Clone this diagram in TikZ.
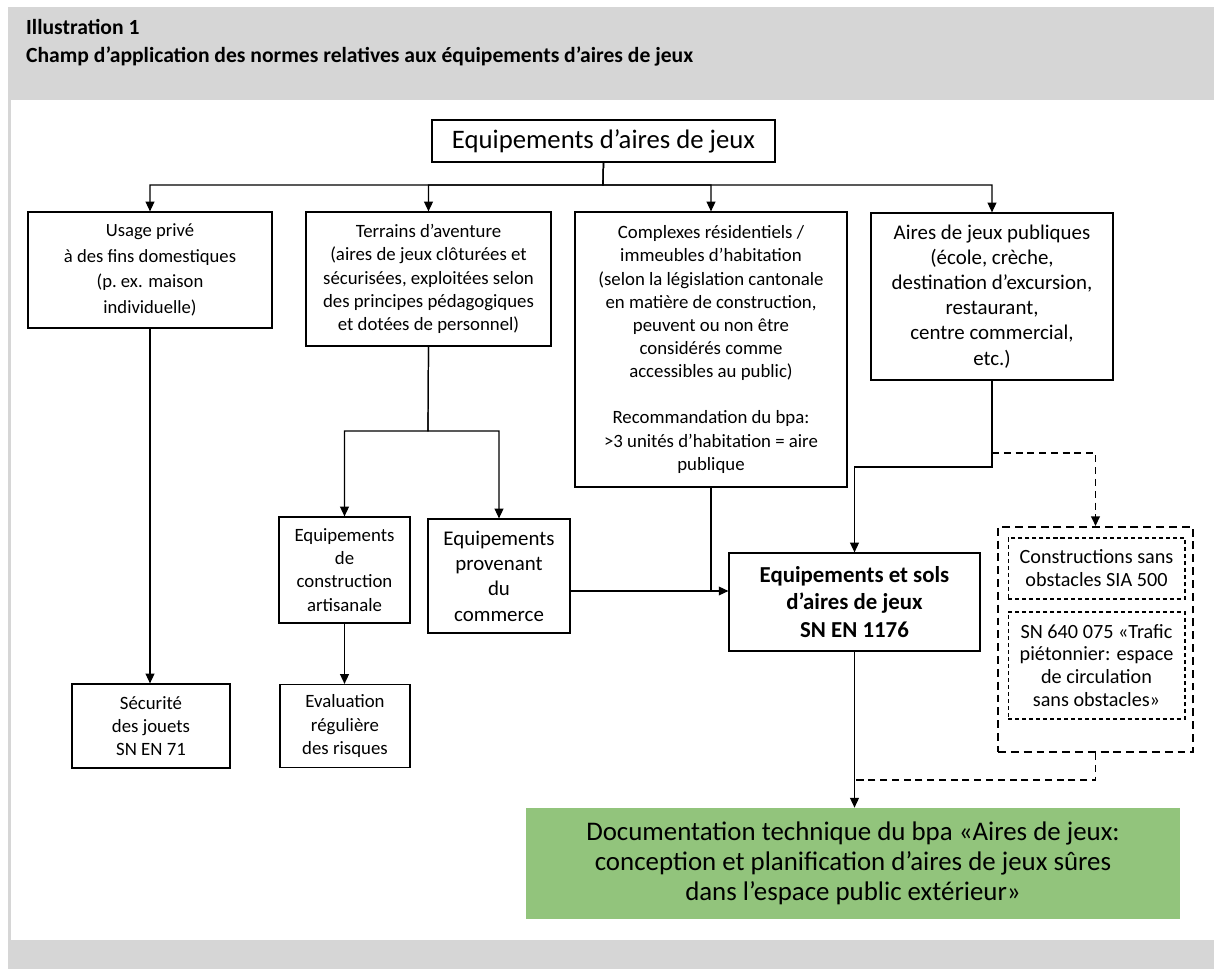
\documentclass[tikz,border=0pt]{standalone}
\usepackage{fontspec}
\setmainfont{Carlito}
\usetikzlibrary{arrows.meta}
\definecolor{frameGray}{RGB}{214,214,214}
\definecolor{docGreen}{RGB}{146,196,124}

\begin{document}
\begin{tikzpicture}[x=0.02cm, y=-0.02cm,
  box/.style={draw, line width=0.7pt, align=center, inner sep=2pt,
    font=\fontsize{10.7}{13.2}\selectfont},
  normbox/.style={box, line width=0.6pt, dash pattern=on 2.3pt off 1.7pt,
    font=\fontsize{11.5}{13}\selectfont},
  link/.style={line width=0.7pt},
  arr/.style={link, -{Triangle[length=5.5pt, width=5pt]}},
  dashlink/.style={line width=1pt, dash pattern=on 4pt off 2.7pt}]

\useasboundingbox (0,0) rectangle (1214,969);

%
\fill[white] (0,0) rectangle (1214,969);
\fill[frameGray] (8,7) rectangle (1214,969);
\fill[white] (11,100) rectangle (1214,940);

%
\node[anchor=west, font=\bfseries\fontsize{12.3}{14}\selectfont] (illu) at (20,27) {Illustration 1};
\node[anchor=west, font=\bfseries\fontsize{12.3}{14}\selectfont] (titre) at (20,56)
  {Champ d’application des normes relatives aux équipements d’aires de jeux};

%
\node[box, font=\fontsize{15.2}{18}\selectfont, minimum width=6.86cm, minimum height=0.84cm]
  (equip) at (603.5,141) {Equipements d’aires de jeux};

%
\node[box, font=\fontsize{10.6}{14.5}\selectfont, minimum width=4.88cm, minimum height=2.32cm]
  (prive) at (150,270)
  {Usage privé\\ à des fins domestiques\\ (p.\ ex. maison\\ individuelle)};
\node[box, minimum width=4.9cm, minimum height=2.68cm] (aventure) at (428.5,279)
  {Terrains d’aventure\\ (aires de jeux clôturées et\\ sécurisées, exploitées selon\\
   des principes pédagogiques\\ et dotées de personnel)};
\node[box, minimum width=5.44cm, minimum height=5.5cm] (residentiel) at (711,349.5)
  {Complexes résidentiels /\\ immeubles d’habitation\\ (selon la législation cantonale\\
   en matière de construction,\\ peuvent ou non être\\ considérés comme\\
   accessibles au public)\\[13pt] Recommandation du bpa:\\ >3 unités d’habitation = aire\\ publique};
\node[box, font=\fontsize{11.9}{14.3}\selectfont, minimum width=4.84cm, minimum height=3.34cm]
  (publique) at (992,296.5)
  {Aires de jeux publiques\\ (école, crèche,\\ destination d’excursion,\\ restaurant,\\
   centre commercial,\\ etc.)};

%
\node[box, minimum width=2.62cm, minimum height=2.12cm] (artisanal) at (344.5,570)
  {Equipements\\ de\\ construction\\ artisanale};
\node[box, font=\fontsize{11.9}{14.4}\selectfont, minimum width=2.84cm, minimum height=2.28cm]
  (commerce) at (499,576) {Equipements\\ provenant\\ du\\ commerce};
\node[box, minimum width=2.6cm, minimum height=1.66cm] (risques) at (345,726)
  {Evaluation\\ régulière\\ des risques};
\node[box, minimum width=3.16cm, minimum height=1.68cm] (jouets) at (151,726)
  {Sécurité\\ des jouets\\ SN EN 71};

%
\node[box, font=\bfseries\fontsize{13}{15.5}\selectfont, minimum width=5.02cm, minimum height=1.96cm]
  (sols) at (854.5,602) {Equipements et sols\\ d’aires de jeux\\ SN EN 1176};

%
\node[draw, line width=1.2pt, dash pattern=on 4.5pt off 2.8pt, minimum width=3.9cm,
  minimum height=4.5cm] (sansobst) at (1095.5,639.5) {};
\node[normbox, minimum width=3.54cm, minimum height=1.22cm] (sia) at (1096.5,568.5)
  {Constructions sans\\ obstacles SIA 500};
\node[normbox, minimum width=3.54cm, minimum height=2.14cm] (trafic) at (1096.5,665.5)
  {SN 640 075 «Trafic\\ piétonnier: espace\\ de circulation\\ sans obstacles»};

%
\node[fill=docGreen, align=center, font=\fontsize{15.3}{17.2}\selectfont,
  minimum width=13.08cm, minimum height=2.22cm] (doc) at (853,863.5)
  {Documentation technique du bpa «Aires de jeux:\\ conception et planification d’aires de jeux sûres\\
   dans l’espace public extérieur»};

%
\coordinate (bus) at (603,185);
\coordinate (bsplit) at (428,431);
\coordinate (dknee) at (992,467);
\coordinate (dtap) at (992,453);
\coordinate (hjoin) at (856,780);

%
\foreach \t in {prive,aventure,residentiel,publique}
  \draw[arr] (equip.south) -- (bus) -| (\t.north);

\draw[arr] (prive.south) -- (prive.south |- jouets.north);
\draw[arr] (aventure.south) -- (bsplit) -| (artisanal.north);
\draw[arr] (aventure.south) -- (bsplit) -| (commerce.north);
\draw[arr] (artisanal.south) -- (artisanal.south |- risques.north);

%
\draw[arr] ([yshift=-0.3cm]commerce.east) -- ([yshift=-0.3cm]commerce.east -| sols.west);
\draw[link] (residentiel.south) -- ([yshift=-0.3cm]commerce.east -| residentiel.south);
\draw[arr] (publique.south) -- (dknee) -| (sols.north);
\draw[dashlink, -{Triangle[length=5.5pt, width=5pt]}] (dtap) -| (sansobst.north);

%
\draw[arr] (sols.south) -- (sols.south |- doc.north);
\draw[dashlink] (sansobst.south) |- (hjoin);

\end{tikzpicture}
\end{document}
